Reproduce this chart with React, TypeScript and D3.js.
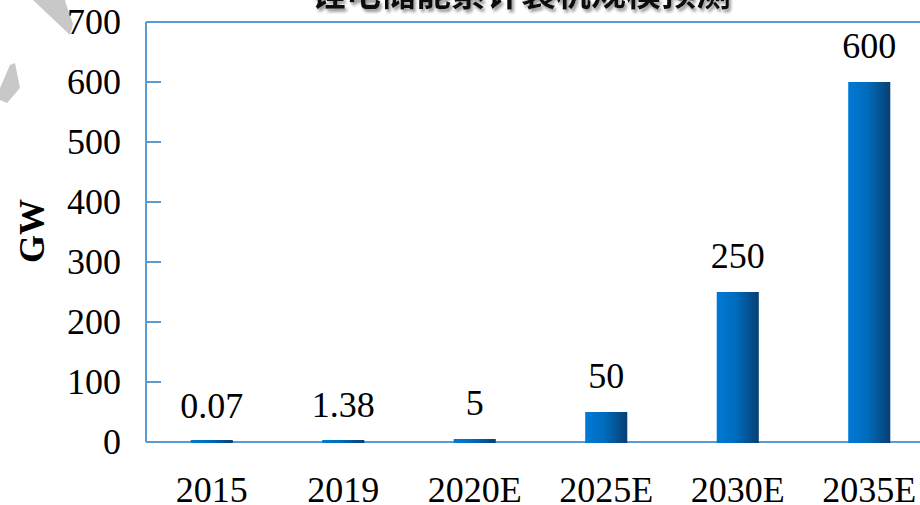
import React from "react";
import * as d3 from "d3";

const categories = ["2015", "2019", "2020E", "2025E", "2030E", "2035E"];
const capacityGW = [0.07, 1.38, 5, 50, 250, 600];
const valueLabels = ["0.07", "1.38", "5", "50", "250", "600"];
const yTicks = [0, 100, 200, 300, 400, 500, 600, 700];

const W = 920;
const H = 505;
const plot = { left: 146, right: 935, top: 22, bottom: 442 };
const axisColor = "#5b9bd5";
const serif = "Liberation Serif";

const App = () => {
  const x = d3
    .scaleBand<string>()
    .domain(categories)
    .range([plot.left, plot.right])
    .paddingInner(0.68)
    .paddingOuter(0.34);

  const y = d3.scaleLinear().domain([0, 700]).range([plot.bottom, plot.top]);

  // tiny values still show as a sliver on the axis, like the original
  const barTop = (v: number) => Math.min(y(v), plot.bottom - 2);

  return (
    <svg
      width={W}
      height={H}
      style={{ position: "absolute", left: 0, top: 0, background: "#fff" }}
    >
      <defs>
        <linearGradient id="barGrad" x1="0" x2="1" y1="0" y2="0">
          <stop offset="0" stopColor="#007ad6" />
          <stop offset="0.45" stopColor="#006cbd" />
          <stop offset="1" stopColor="#073f72" />
        </linearGradient>
        <filter id="titleShadow" x="-10%" y="-50%" width="120%" height="200%">
          <feDropShadow dx="2" dy="3" stdDeviation="1.6" floodColor="#999" />
        </filter>
      </defs>

      {/* watermark scraps */}
      <polygon points="33,0 65,0 66,4 73,24 70,35" fill="#c8c8c8" />
      <polygon points="0,88 10,65 15,63 20,88 7,103 0,100" fill="#c8c8c8" />

      {/* title, mostly cut off at the top */}
      <text
        x={521}
        y={6}
        textAnchor="middle"
        fontSize={35}
        fontWeight="bold"
        style={{ fontFamily: "Noto Sans CJK SC" }}
        fill="#111"
        filter="url(#titleShadow)"
      >
        锂电储能累计装机规模预测
      </text>

      {/* frame lines */}
      <line x1={plot.left} x2={W} y1={plot.top} y2={plot.top} stroke={axisColor} strokeWidth={2} />
      <line x1={plot.left} x2={plot.left} y1={plot.top} y2={plot.bottom} stroke={axisColor} strokeWidth={2} />
      <line x1={plot.left} x2={W} y1={plot.bottom} y2={plot.bottom} stroke={axisColor} strokeWidth={2} />

      {/* y ticks + labels */}
      {yTicks.map((t) => (
        <g key={t}>
          {t > 0 && (
            <line
              x1={plot.left}
              x2={plot.left + 15}
              y1={y(t)}
              y2={y(t)}
              stroke={axisColor}
              strokeWidth={2}
            />
          )}
          <text
            x={121}
            y={y(t) + 12}
            textAnchor="end"
            fontSize={36}
            fill="#000"
            style={{ fontFamily: serif }}
          >
            {t}
          </text>
        </g>
      ))}

      <text
        transform={`translate(44,231) rotate(-90)`}
        textAnchor="middle"
        fontSize={36}
        fontWeight="bold"
        fill="#000"
        style={{ fontFamily: serif }}
      >
        GW
      </text>

      {/* bars */}
      {categories.map((c, i) => {
        const cx = (x(c) ?? 0) + x.bandwidth() / 2;
        return (
          <g key={c}>
            <rect
              x={x(c)}
              y={barTop(capacityGW[i])}
              width={x.bandwidth()}
              height={plot.bottom + 1 - barTop(capacityGW[i])}
              fill="url(#barGrad)"
            />
            <text
              x={cx}
              y={y(capacityGW[i]) - 24}
              textAnchor="middle"
              fontSize={36}
              fill="#000"
              style={{ fontFamily: serif }}
            >
              {valueLabels[i]}
            </text>
            <text
              x={cx}
              y={502}
              textAnchor="middle"
              fontSize={36}
              fill="#000"
              style={{ fontFamily: serif }}
            >
              {c}
            </text>
          </g>
        );
      })}
    </svg>
  );
};

export default App;
